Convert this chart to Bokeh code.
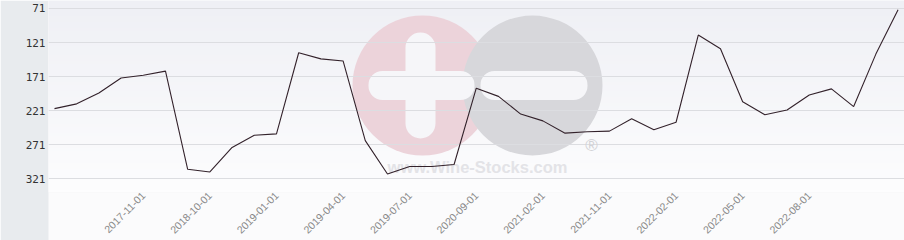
import numpy as np
from bokeh.plotting import figure
from bokeh.models import Range1d, FixedTicker, Label
from bokeh.embed import file_html
from bokeh.resources import INLINE
from bokeh.core.properties import value

# ---- data ----
ranks = [218, 211, 195, 173, 169, 163, 307, 311, 275, 257, 255, 136, 145, 148,
         265, 314, 303, 303, 300, 188, 200, 226, 236, 254, 252, 251, 233, 249,
         238, 110, 130, 208, 227, 220, 198, 189, 215, 138, 73]
tick_idx = [4, 7, 10, 13, 16, 19, 22, 25, 28, 31, 34]
tick_labels = ["2017-11-01", "2018-10-01", "2019-01-01", "2019-04-01",
               "2019-07-01", "2020-09-01", "2021-02-01", "2021-11-01",
               "2022-02-01", "2022-05-01", "2022-08-01"]
y_ticks = [71, 121, 171, 221, 271, 321]

idx = list(range(len(ranks)))

W, H = 904, 240
LEFT = 48
FRAME_H = 192
x0, x1 = -0.27, 38.29
y_top, y_bot = 59.3, 341.1

p = figure(width=W, height=H, output_backend="svg", toolbar_location=None,
           x_range=Range1d(x0, x1), y_range=Range1d(y_bot, y_top),
           min_border_left=LEFT, min_border_right=0, min_border_top=0,
           min_border_bottom=H - FRAME_H)
p.border_fill_color = "#e8ebee"
p.outline_line_color = None
p.background_fill_color = "#f7f8fa"

# helpers: pixel (canvas) -> data, for decorative watermark only
def fx(px):
    return x0 + (px - LEFT) * (x1 - x0) / (W - LEFT)

def fy(py):
    return y_top + py * (y_bot - y_top) / FRAME_H

# background gradient
n = 64
grad = np.zeros((n, 1), dtype=np.uint32)
view = grad.view(dtype=np.uint8).reshape((n, 1, 4))
c_top = np.array([239, 240, 245])
c_bot = np.array([253, 253, 254])
for i in range(n):
    t = i / (n - 1)
    c = c_top + (c_bot - c_top) * t
    view[i, 0, 0:3] = c.astype(np.uint8)
    view[i, 0, 3] = 255
p.image_rgba(image=[grad], x=x0, y=y_top, dw=x1 - x0, dh=y_bot - y_top,
             level="image")

# watermark
cy = fy(85)
rad = 70 * (x1 - x0) / (W - LEFT)
p.circle(x=[fx(422)], y=[cy], radius=rad,
         fill_color="#ecd3da", line_color=None, level="underlay")
p.circle(x=[fx(532)], y=[cy], radius=rad,
         fill_color="#d7d7db", line_color=None, level="underlay")
p.rect(x=[fx(420)], y=[cy], width=30, height=106, width_units="screen",
       height_units="screen", border_radius=15, fill_color="#f6f6f9",
       line_color=None, level="underlay")
p.rect(x=[fx(421)], y=[cy], width=106, height=29, width_units="screen",
       height_units="screen", border_radius=14, fill_color="#f6f6f9",
       line_color=None, level="underlay")
p.rect(x=[fx(533.5)], y=[cy], width=107, height=29, width_units="screen",
       height_units="screen", border_radius=14, fill_color="#f6f6f9",
       line_color=None, level="underlay")
p.add_layout(Label(x=fx(477), y=fy(166), text="www.Wine-Stocks.com",
                   text_font="Liberation Sans", text_font_style="bold",
                   text_font_size="16.5px", text_color="#e3e3e7",
                   text_align="center", text_baseline="middle",
                   level="underlay"))
p.add_layout(Label(x=fx(591), y=fy(145), text="®",
                   text_font="Liberation Sans", text_font_size="17px",
                   text_color="#d2d2d6", text_align="center",
                   text_baseline="middle", level="underlay"))

# line
p.line(idx, ranks, line_color="#33222b", line_width=1.1)

# grid
p.xgrid.grid_line_color = None
p.ygrid.ticker = FixedTicker(ticks=y_ticks)
p.ygrid.grid_line_color = "#dcdde1"
p.ygrid.grid_line_width = 1

# y axis
p.yaxis.ticker = FixedTicker(ticks=y_ticks)
p.yaxis.axis_line_color = None
p.yaxis.major_tick_line_color = None
p.yaxis.minor_tick_line_color = None
p.yaxis.major_tick_out = 0
p.yaxis.major_tick_in = 0
p.yaxis.minor_tick_out = 0
p.yaxis.major_label_text_font = "DejaVu Sans Mono"
p.yaxis.major_label_text_font_size = "11px"
p.yaxis.major_label_text_color = "#333333"
p.yaxis.major_label_standoff = 3

# x axis
p.xaxis.ticker = FixedTicker(ticks=tick_idx)
p.xaxis.major_label_overrides = {i: s for i, s in zip(tick_idx, tick_labels)}
p.xaxis.axis_line_color = None
p.xaxis.major_tick_line_color = None
p.xaxis.minor_tick_line_color = None
p.xaxis.major_tick_out = 0
p.xaxis.major_tick_in = 0
p.xaxis.minor_tick_out = 0
p.xaxis.major_label_orientation = np.pi / 4
p.xaxis.major_label_text_font = "Liberation Sans"
p.xaxis.major_label_text_font_size = "10.5px"
p.xaxis.major_label_text_color = "#888888"
p.xaxis.major_label_standoff = 1
p.xaxis.background_fill_color = "#fbfbfc"

open("out.html", "w").write(file_html(p, INLINE))
